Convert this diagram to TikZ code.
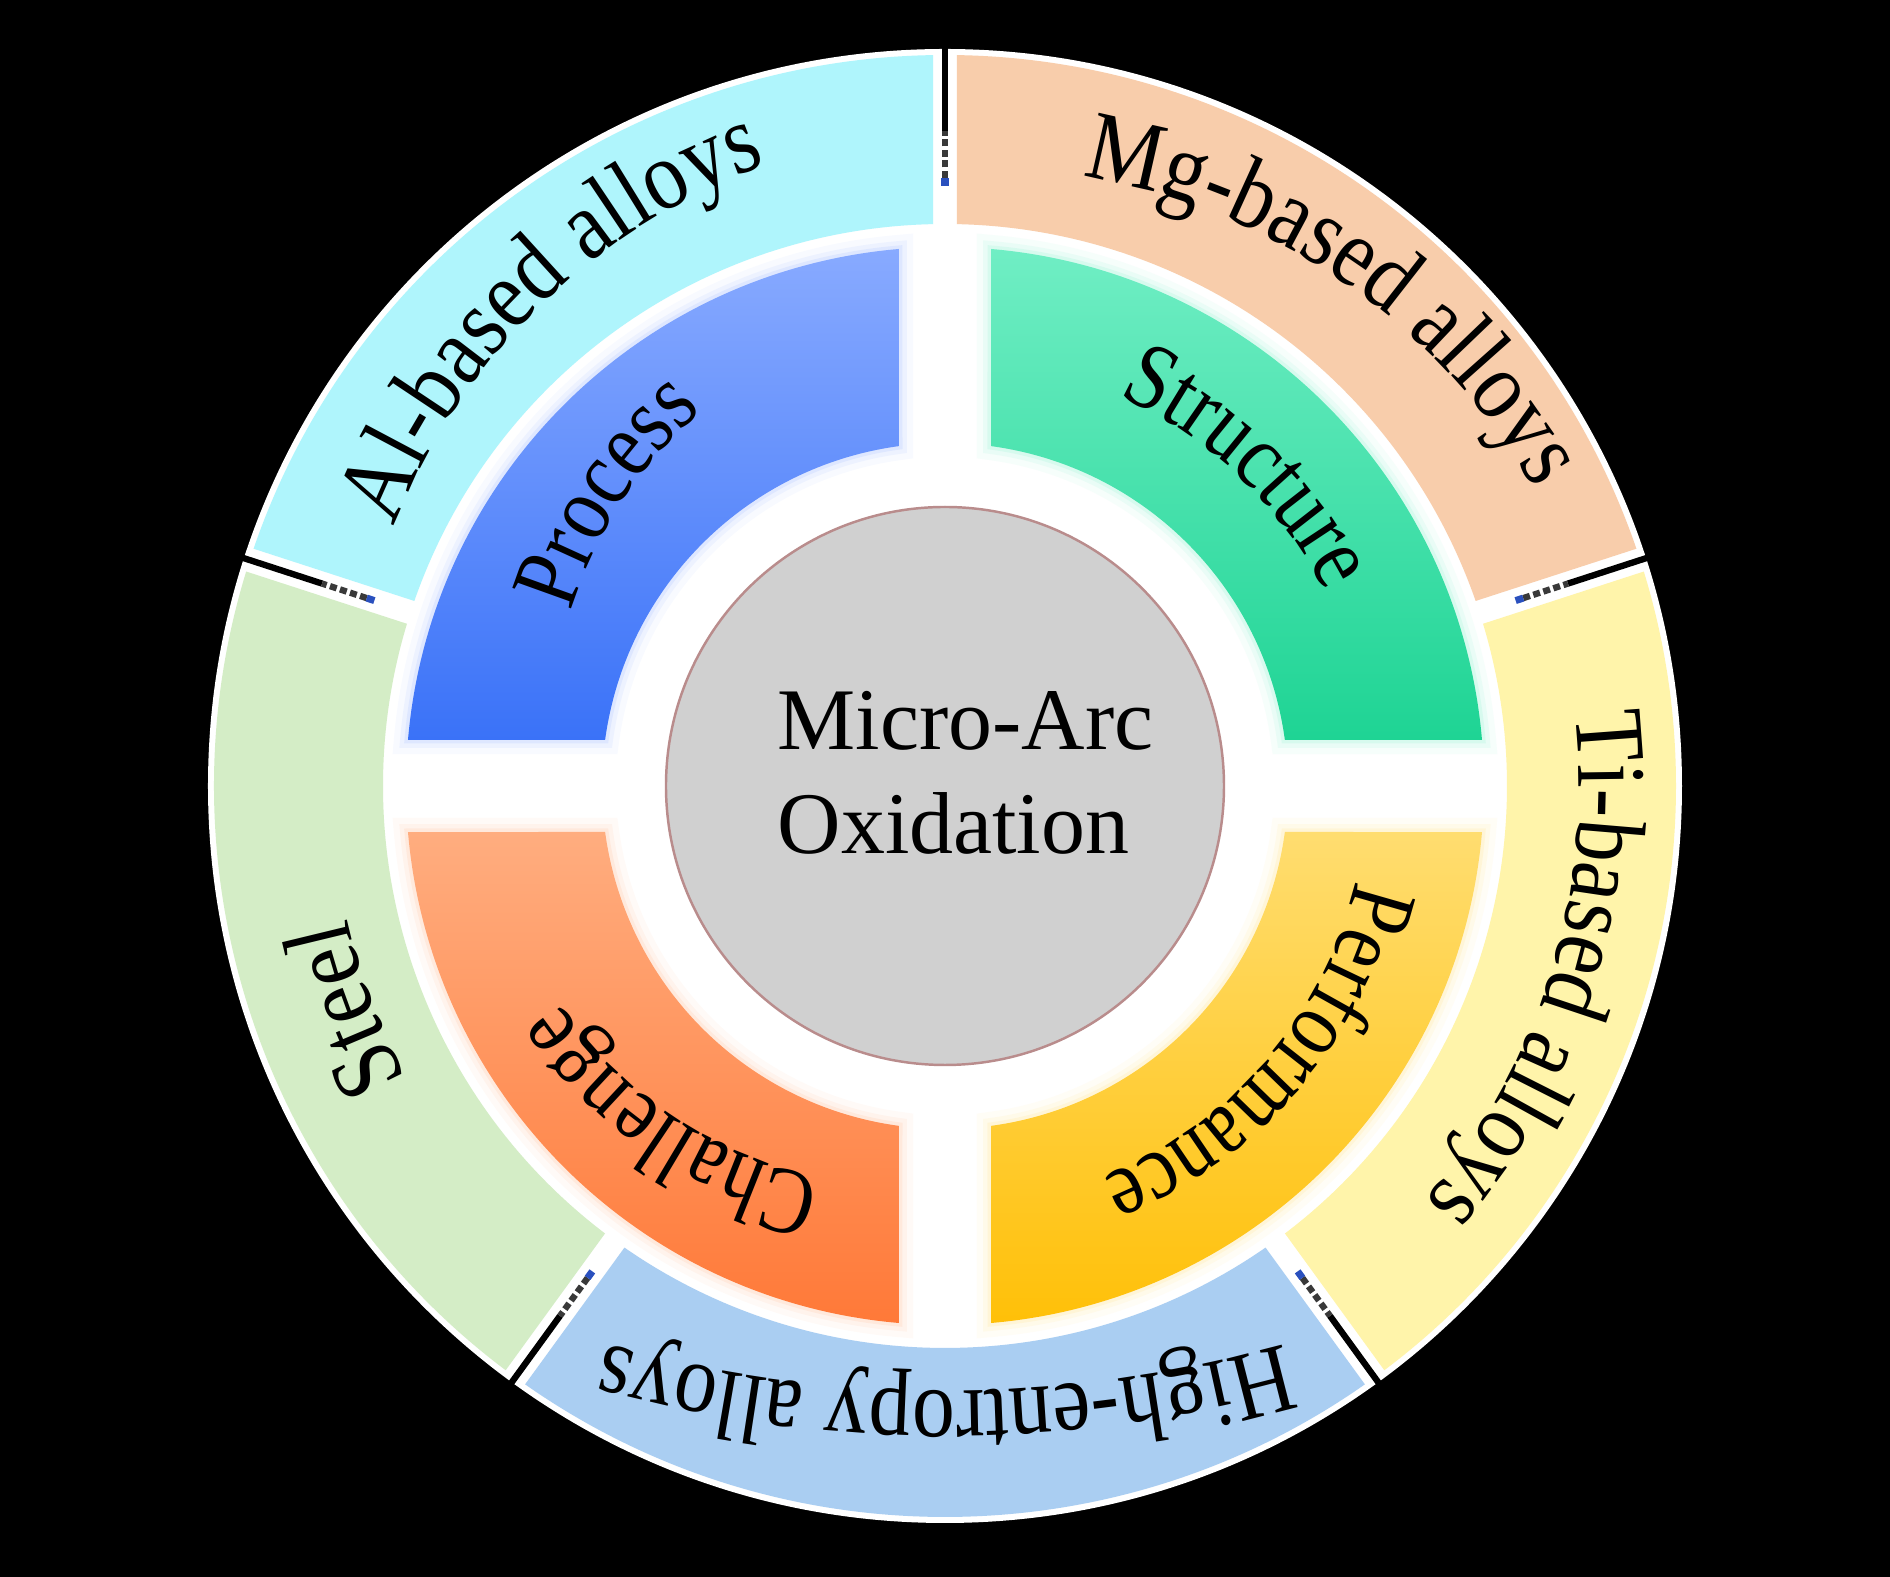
\documentclass[tikz,border=0pt]{standalone}
\usepackage{fontspec}
\setmainfont{Liberation Serif}
\newfontfamily\arcfont{Liberation Serif}[FakeStretch=0.87]
\newfontfamily\arcnarrow{Liberation Serif}[FakeStretch=0.84]
\usetikzlibrary{decorations.text,positioning}
\definecolor{alcyan}{RGB}{175,245,252}
\definecolor{mgpeach}{RGB}{248,205,171}
\definecolor{tiyellow}{RGB}{255,244,170}
\definecolor{heblue}{RGB}{170,206,242}
\definecolor{steelgreen}{RGB}{212,237,198}
\definecolor{proctop}{RGB}{136,170,255}
\definecolor{procbot}{RGB}{58,114,248}
\definecolor{strutop}{RGB}{112,238,196}
\definecolor{strubot}{RGB}{30,212,148}
\definecolor{perftop}{RGB}{255,221,112}
\definecolor{perfbot}{RGB}{255,192,8}
\definecolor{chaltop}{RGB}{255,173,127}
\definecolor{chalbot}{RGB}{255,121,56}
\definecolor{coregray}{RGB}{208,208,208}
\definecolor{coreedge}{RGB}{185,140,140}
\definecolor{markblue}{RGB}{42,80,190}

\begin{document}
\begin{tikzpicture}[x=1cm, y=1cm,
  seg/.style={fill=#1, draw=none},
  blk/.style 2 args={top color=#1, bottom color=#2, draw=none,
    preaction={draw=#1, draw opacity=0.06, line width=8pt},
    preaction={draw=#1, draw opacity=0.09, line width=4.5pt},
    preaction={draw=#1, draw opacity=0.14, line width=2pt}},
  gapline/.style={draw=black, line width=1.8pt},
  curved/.style={decorate, decoration={text along path, text align=center, text={#1}}}]

% background and frame
\fill[black] (-9.45,-7.91) rectangle (9.45,7.86);
\useasboundingbox (-9.45,-7.91) rectangle (9.45,7.86);
\fill[white] (0,0) circle (7.37);

% outer ring: five sectors of 72 degrees
\foreach \a/\c in {90/alcyan, 162/steelgreen, 234/heblue, 306/tiyellow, 18/mgpeach}
  \fill[seg=\c] ({\a+1.223}:5.62) arc[start angle={\a+1.223}, end angle={\a+72-1.223}, radius=5.62]
    -- ({\a+72-0.94}:7.31) arc[start angle={\a+72-0.94}, end angle={\a+0.94}, radius=7.31] -- cycle;
\foreach \a in {90,162,234,306,18} {
  \draw[gapline] (\a:6.55) -- (\a:7.5);
  \draw[gray!45!black, line width=1.8pt, dash pattern=on 2pt off 1pt] (\a:6.08) -- (\a:6.55);
  \draw[markblue, line width=2pt] (\a:6.0) -- (\a:6.08);
}

% inner quadrants
\foreach \b/\ct/\cb in {90/proctop/procbot, 0/strutop/strubot, 270/perftop/perfbot, 180/chaltop/chalbot}
  \path[blk={\ct}{\cb}] ({\b+7.71}:3.43) arc[start angle={\b+7.71}, end angle={\b+82.29}, radius=3.43]
    -- ({\b+85.10}:5.39) arc[start angle={\b+85.10}, end angle={\b+4.90}, radius=5.39] -- cycle;

% core
\node[circle, draw=coreedge, fill=coregray, line width=0.7pt, minimum size=5.58cm] (core) at (0,0) {};
\node[anchor=base west, inner sep=0pt, font=\fontsize{25}{29.6}\selectfont] (micro) at (-1.68,0.36) {Micro-Arc};
\node[anchor=base west, inner sep=0pt, font=\fontsize{25}{29.6}\selectfont] (oxid) at (-1.68,-0.68) {Oxidation};

% outer labels
\path[curved={|\arcfont\fontsize{28}{32}\selectfont|Al-based alloys}, shift={(0.28,0.36)}] (179.2:6.2) arc[start angle=179.2, end angle=89.2, radius=6.2];
\path[curved={|\arcfont\fontsize{28}{32}\selectfont|Mg-based alloys}, shift={(0.33,-0.24)}] (100.3:6.42) arc[start angle=100.3, end angle=10.3, radius=6.42];
\path[curved={|\arcfont\fontsize{28}{32}\selectfont|Ti-based alloys}] (27.9:6.34) arc[start angle=27.9, end angle=-62.1, radius=6.34];
\path[curved={|\arcfont\fontsize{28}{32}\selectfont|High-entropy alloys}, shift={(0,6.45)}] (292:12.5) arc[start angle=292, end angle=248, radius=12.5];
\path[curved={|\arcfont\fontsize{28}{32}\selectfont|Steel}] (245.5:6.12) arc[start angle=245.5, end angle=155.5, radius=6.12];

% inner labels
\path[curved={|\arcnarrow\fontsize{27}{31}\selectfont|Process}, shift={(0.3,0.53)}] (191.8:4.22) arc[start angle=191.8, end angle=101.8, radius=4.22];
\path[curved={|\arcnarrow\fontsize{27}{31}\selectfont|Structure}] (91.5:4.27) arc[start angle=91.5, end angle=1.5, radius=4.27];
\path[curved={|\arcnarrow\fontsize{27}{31}\selectfont|Performance}] (4.4:4.22) arc[start angle=4.4, end angle=-85.6, radius=4.22];
\path[curved={|\arcnarrow\fontsize{27}{31}\selectfont|Challenge}, shift={(-0.39,0.17)}] (281.2:4.18) arc[start angle=281.2, end angle=191.2, radius=4.18];
\end{tikzpicture}
\end{document}
